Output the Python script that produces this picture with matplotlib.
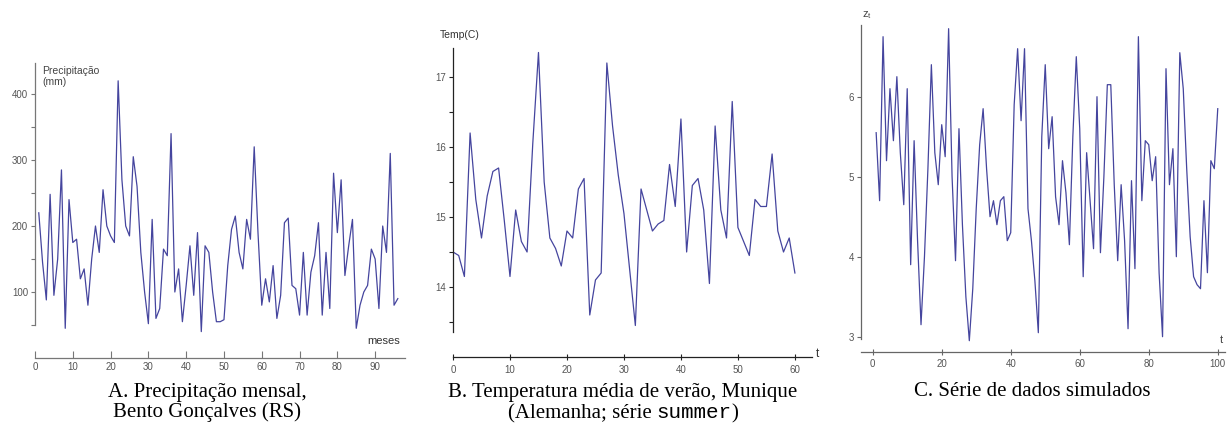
import numpy as np
import matplotlib
matplotlib.use("Agg")
import matplotlib.pyplot as plt
from matplotlib.offsetbox import TextArea, HPacker, AnnotationBbox

plt.rcParams['font.family'] = ['Liberation Sans', 'DejaVu Sans']

# A. precipitação mensal (mm), meses 1..96
precip_meses = np.arange(1, 97)
precip = [220, 145, 88, 248, 95, 150, 285, 45, 240, 175,
          180, 120, 135, 80, 150, 200, 160, 255, 200, 185,
          175, 420, 270, 200, 185, 305, 260, 160, 100, 52,
          210, 60, 75, 165, 155, 340, 100, 135, 55, 110,
          170, 95, 190, 40, 170, 160, 100, 55, 55, 58,
          140, 195, 215, 160, 135, 210, 180, 320, 190, 80,
          120, 85, 140, 60, 95, 205, 212, 110, 105, 65,
          160, 65, 130, 155, 205, 65, 160, 75, 280, 190,
          270, 125, 170, 210, 45, 80, 100, 110, 165, 150,
          75, 200, 160, 310, 80, 90]

# B. temperatura média de verão (C), t = 0..60
temp_t = np.arange(0, 61)
temp = [14.5, 14.45, 14.15, 16.2, 15.25, 14.7, 15.3, 15.65, 15.7, 14.95,
        14.15, 15.1, 14.65, 14.5, 16.05, 17.35, 15.5, 14.7, 14.55, 14.3,
        14.8, 14.7, 15.4, 15.55, 13.6, 14.1, 14.2, 17.2, 16.3, 15.6,
        15.05, 14.25, 13.45, 15.4, 15.1, 14.8, 14.9, 14.95, 15.75, 15.15,
        16.4, 14.5, 15.45, 15.55, 15.1, 14.05, 16.3, 15.1, 14.7, 16.65,
        14.85, 14.65, 14.45, 15.25, 15.15, 15.15, 15.9, 14.8, 14.5, 14.7,
        14.2]

# C. série simulada Z_t, t = 1..100
sim_t = np.arange(1, 101)
sim = [5.55, 4.7, 6.75, 5.2, 6.1, 5.45, 6.25, 5.3, 4.65, 6.1,
       3.9, 5.45, 4.2, 3.15, 4.0, 5.1, 6.4, 5.3, 4.9, 5.65,
       5.25, 6.85, 5.0, 3.95, 5.6, 4.4, 3.5, 2.95, 3.6, 4.6,
       5.4, 5.85, 5.1, 4.5, 4.7, 4.4, 4.7, 4.75, 4.2, 4.3,
       5.9, 6.6, 5.7, 6.6, 4.6, 4.2, 3.7, 3.05, 5.5, 6.4,
       5.35, 5.75, 4.75, 4.4, 5.2, 4.8, 4.15, 5.5, 6.5, 5.6,
       3.75, 5.3, 4.7, 4.1, 6.0, 4.05, 5.0, 6.15, 6.15, 4.9,
       3.95, 4.9, 4.2, 3.1, 4.95, 3.85, 6.75, 4.7, 5.45, 5.4,
       4.95, 5.25, 3.8, 3.0, 6.35, 4.9, 5.35, 4.0, 6.55, 6.1,
       5.1, 4.25, 3.75, 3.65, 3.6, 4.7, 3.8, 5.2, 5.1, 5.85]

W, H = 1231, 425
LINE = '#45459e'
TICK = '#555555'

fig = plt.figure(figsize=(W / 100, H / 100), dpi=100)
fig.patch.set_facecolor('white')


def eixo(x0, y0, x1, y1):
    # caixa em pixels (origem no canto superior esquerdo)
    return fig.add_axes([x0 / W, 1 - y1 / H, (x1 - x0) / W, (y1 - y0) / H])


def estilo(ax, cor, ybounds, xdir):
    for s in ['top', 'right']:
        ax.spines[s].set_visible(False)
    for s in ['left', 'bottom']:
        ax.spines[s].set_color(cor)
        ax.spines[s].set_linewidth(0.9)
    ax.spines['left'].set_bounds(*ybounds)
    ax.tick_params(axis='y', which='both', direction='out', length=3,
                   width=0.8, color=cor, labelsize=7, labelcolor=TICK, pad=2)
    ax.tick_params(axis='x', which='both', direction=xdir, length=5,
                   width=0.8, color=cor, labelsize=7, labelcolor=TICK, pad=3)
    ax.patch.set_visible(False)


# --- A ---
axA = eixo(35, 63, 405, 358)
axA.plot(precip_meses, precip, color=LINE, lw=0.9)
axA.set_xlim(0, 97.9)
axA.set_ylim(0, 447)
axA.set_xticks(range(0, 100, 10))
axA.set_yticks([100, 200, 300, 400])
axA.set_yticks(range(50, 401, 50), minor=True)
estilo(axA, '#777777', (50, 447), 'in')
axA.text(2, 442, 'Precipitação\n(mm)', fontsize=7.5, color='#444444',
         va='top', ha='left', linespacing=1.1)
axA.text(92.3, 26, 'meses', fontsize=8, color='#333333', ha='center', va='center')

# --- B ---
axB = eixo(453, 48, 812, 357)
axB.plot(temp_t, temp, color=LINE, lw=0.9)
axB.set_xlim(0, 63.0)
axB.set_ylim(13.0, 17.414)
axB.set_xticks(range(0, 61, 10))
axB.set_yticks([14, 15, 16, 17])
axB.set_yticks(np.arange(13.5, 17.01, 0.5), minor=True)
estilo(axB, '#222222', (13.35, 17.414), 'inout')
fig.text(460 / W, 1 - 35 / H, 'Temp(C)', fontsize=7.5, color='#333333',
         ha='center', va='center')
fig.text(817 / W, 1 - 354 / H, 't', fontsize=8.5, color='#333333',
         ha='center', va='center')

# --- C ---
axC = eixo(860.7, 25, 1225, 351.7)
axC.plot(sim_t, sim, color=LINE, lw=0.9)
axC.set_xlim(-3.48, 102.1)
axC.set_ylim(2.8125, 6.896)
axC.set_xticks(range(0, 101, 20))
axC.set_yticks([3, 4, 5, 6])
estilo(axC, '#666666', (2.97, 6.896), 'inout')
fig.text(867 / W, 1 - 15 / H, r'$\mathregular{z_t}$', fontsize=8,
         color='#444444', ha='center', va='center')
fig.text(1221 / W, 1 - 340 / H, 't', fontsize=8, color='#444444',
         ha='center', va='center')

# legendas das séries
serif = dict(family='Liberation Serif', fontsize=15, color='black')
fig.text(207 / W, 1 - 392 / H, 'A. Precipitação mensal,', ha='center', va='center', **serif)
fig.text(207 / W, 1 - 412 / H, 'Bento Gonçalves (RS)', ha='center', va='center', **serif)
fig.text(623 / W, 1 - 393 / H, 'B. Temperatura média de verão, Munique',
         ha='center', va='center', **serif)
fig.text(1032 / W, 1 - 392 / H, 'C. Série de dados simulados',
         ha='center', va='center', **serif)

partes = HPacker(children=[
    TextArea('(Alemanha; série ', textprops=serif),
    TextArea('summer', textprops=dict(family='Liberation Mono', fontsize=15, color='black')),
    TextArea(')', textprops=serif)], sep=0, pad=0, align='baseline')
fig.add_artist(AnnotationBbox(partes, (623 / W, 1 - 413 / H), xycoords='figure fraction',
                              frameon=False, box_alignment=(0.5, 0.5), pad=0))

fig.savefig('out.png', dpi=100)
